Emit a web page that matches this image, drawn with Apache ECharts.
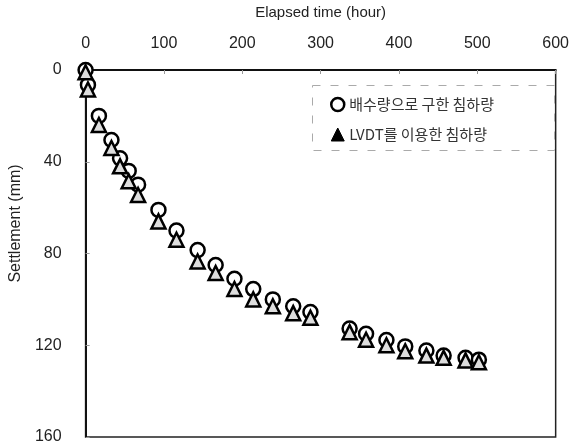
<!DOCTYPE html>
<html>
<head>
<meta charset="utf-8">
<script src="https://cdn.jsdelivr.net/npm/echarts@6/dist/echarts.min.js"></script>
<style>html,body{margin:0;padding:0;background:#fff}#c{width:572px;height:448px}</style>
</head>
<body>
<div id="c"></div>
<script>
var xTicks = [0, 100, 200, 300, 400, 500, 600];
var yTicks = [0, 40, 80, 120, 160];
var timeHours = [0, 3, 17, 33, 44, 55, 67, 93, 116, 143, 166, 190, 214, 239, 265, 287, 337, 358, 384, 408, 435, 457, 485, 502];
var drainageSettlement = [0, 6.5, 20, 30.5, 38.5, 44, 50, 61, 70, 78.5, 85, 91, 95.5, 100, 103, 105.5, 112.7, 115, 117.7, 120.5, 122.3, 124.5, 125.5, 126.3];
var lvdtSettlement = [1, 8.5, 24, 34, 42, 48.5, 54.5, 66, 74, 83.5, 88.5, 95.5, 100, 103, 106, 108, 114.3, 117.6, 120, 122.6, 124.5, 125.5, 126.6, 127.4];
var seriesNames = ['배수량으로 구한 침하량', 'LVDT를 이용한 침하량'];

function pairs(xs, ys) { return xs.map(function (x, i) { return [x, ys[i]]; }); }

var chart = echarts.init(document.getElementById('c'));
var font = 'Liberation Sans, Arial, sans-serif';
chart.setOption({
  animation: false,
  backgroundColor: '#fff',
  grid: { left: 83, right: 13, top: 68, bottom: 11, show: true, borderColor: '#222', borderWidth: 1.5, backgroundColor: 'transparent' },
  xAxis: {
    type: 'value', position: 'top',
    min: xTicks[0], max: xTicks[xTicks.length - 1], interval: 100,
    name: 'Elapsed time (hour)', nameLocation: 'middle', nameGap: 50,
    nameTextStyle: { fontFamily: font, fontSize: 15, color: '#222' },
    axisLine: { show: true, lineStyle: { color: '#111', width: 2 } },
    axisTick: { show: true, inside: true, length: 4, lineStyle: { color: '#999' } },
    axisLabel: { fontFamily: font, fontSize: 16, color: '#222', margin: 18 },
    splitLine: { show: false }
  },
  yAxis: {
    type: 'value', inverse: true,
    min: yTicks[0], max: yTicks[yTicks.length - 1], interval: 40,
    name: 'Settlement (mm)', nameLocation: 'middle', nameGap: 60, nameRotate: 90,
    nameTextStyle: { fontFamily: font, fontSize: 16, color: '#222', padding: [0, 0, 0, 60] },
    axisLine: { show: true, lineStyle: { color: '#111', width: 2 } },
    axisTick: { show: true, inside: true, length: 4, lineStyle: { color: '#999' } },
    axisLabel: { fontFamily: font, fontSize: 16, color: '#222', margin: 24 },
    splitLine: { show: false }
  },
  legend: {
    orient: 'vertical', left: 325, top: 90, itemGap: 11, itemWidth: 13, itemHeight: 13,
    textStyle: { fontFamily: 'Noto Sans CJK KR', fontSize: 15, color: '#333', lineHeight: 19 },
    data: [
      { name: seriesNames[0], icon: 'circle', itemStyle: { color: '#fff', borderColor: '#000', borderWidth: 2.5 } },
      { name: seriesNames[1], icon: 'triangle', itemStyle: { color: '#000', borderColor: '#000', borderWidth: 1 } }
    ]
  },
  graphic: [{
    type: 'rect', left: 310, top: 83, z: 0, silent: true,
    shape: { width: 242, height: 65 },
    style: { fill: 'none', stroke: '#aaa', lineWidth: 1, lineDash: [8, 10] }
  }],
  series: [
    {
      name: seriesNames[0], type: 'scatter', symbol: 'circle', symbolSize: 14,
      itemStyle: { color: '#fff', borderColor: '#000', borderWidth: 2.5, opacity: 1 },
      data: pairs(timeHours, drainageSettlement), z: 2
    },
    {
      name: seriesNames[1], type: 'scatter', symbol: 'triangle', symbolSize: 14,
      itemStyle: { color: '#ddd', borderColor: '#000', borderWidth: 2.5, opacity: 1 },
      data: pairs(timeHours, lvdtSettlement), z: 3
    }
  ]
});
</script>
</body>
</html>
